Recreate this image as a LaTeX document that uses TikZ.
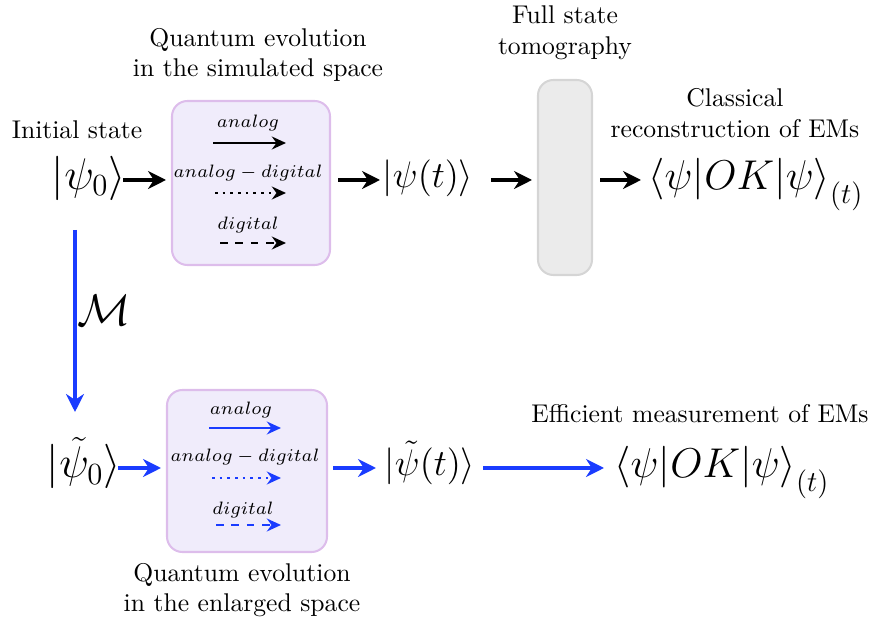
\documentclass[tikz,border=0pt]{standalone}
\usepackage{graphicx}
\usetikzlibrary{arrows.meta}
\definecolor{qblue}{HTML}{1A3CFF}
\definecolor{boxfill}{HTML}{F0ECFB}
\definecolor{boxdraw}{HTML}{DDBDEB}
\definecolor{tomofill}{HTML}{EBEBEB}
\definecolor{tomodraw}{HTML}{D5D5D5}
\newcommand{\okexpr}{\scalebox{0.94}{$\langle\psi|OK|\psi\rangle_{\lower3pt\hbox{$\scriptstyle(t)$}}$}}
\begin{document}
\begin{tikzpicture}[x=0.39pt,y=-0.39pt,
  evobox/.style={draw=boxdraw,fill=boxfill,line width=0.8pt,rounded corners=6pt},
  tomobox/.style={draw=tomodraw,fill=tomofill,line width=0.8pt,rounded corners=6pt},
  bigarrow/.style={line width=1.4pt,-{Stealth[length=7pt,width=7pt]}},
  smallarrow/.style={line width=1pt,-{Stealth[length=5.5pt,width=5pt]}},
  lab/.style={align=center,inner sep=0pt},
  tiny/.style={font=\fontsize{7.5}{9}\selectfont,inner sep=0pt},
  st/.style={inner sep=0pt,font=\LARGE},
  sm/.style={inner sep=0pt,font=\Large},
  okst/.style={inner sep=0pt,font=\LARGE}]
\useasboundingbox (0,0) rectangle (887,622);
% top row
\node[lab] (qevs) at (258,55) {Quantum evolution\\in the simulated space};
\node[lab] (init) at (77,130) {Initial state};
\node[st] (psi0) at (89,178) {$|\psi_0\rangle$};
\draw[evobox] (172,101) rectangle (330,265);
\node[tiny] (t1) at (248,123) {$analog$};
\coordinate (a1s) at (213,143); \coordinate (a1e) at (286,143);
\draw[smallarrow] (a1s) -- (a1e);
\node[tiny] (t2) at (248,173) {$analog-digital$};
\coordinate (a2s) at (215,193); \coordinate (a2e) at (286,193);
\draw[smallarrow,dotted] (a2s) -- (a2e);
\node[tiny] (t3) at (248,225) {$digital$};
\coordinate (a3s) at (220,243); \coordinate (a3e) at (286,243);
\draw[smallarrow,dashed] (a3s) -- (a3e);
\coordinate (b0) at (123,180); \coordinate (b1w) at (166,180);
\draw[bigarrow] (b0) -- (b1w);
\coordinate (b1e) at (338,180); \coordinate (b2) at (380,180);
\draw[bigarrow] (b1e) -- (b2);
\node[sm] (psit) at (428,178) {$|\psi(t)\rangle$};
\node[lab] (full) at (565,33) {Full state\\tomography};
\draw[tomobox] (538,80) rectangle (592,275);
\coordinate (b3) at (491,180); \coordinate (tw) at (532,180);
\draw[bigarrow] (b3) -- (tw);
\node[lab] (clas) at (735,113) {Classical\\reconstruction of EMs};
\node[okst,anchor=base west] (ok1) at (648,190) {\okexpr};
\coordinate (te) at (600,180); \coordinate (b4) at (641,180);
\draw[bigarrow] (te) -- (b4);
% vertical map
\coordinate (ms) at (75,230); \coordinate (me) at (75,412);
\draw[bigarrow,qblue] (ms) -- (me);
\node[font=\LARGE,inner sep=0pt] (M) at (104,310) {$\mathcal{M}$};
% bottom row
\node[st] (tpsi0) at (84,463) {$|\tilde\psi_0\rangle$};
\draw[evobox] (167,390) rectangle (327,552);
\node[tiny] (u1) at (241,410) {$analog$};
\coordinate (c1s) at (209,428); \coordinate (c1e) at (281,428);
\draw[smallarrow,qblue] (c1s) -- (c1e);
\node[tiny] (u2) at (245,457) {$analog-digital$};
\coordinate (c2s) at (212,478); \coordinate (c2e) at (281,478);
\draw[smallarrow,dotted,qblue] (c2s) -- (c2e);
\node[tiny] (u3) at (243,510) {$digital$};
\coordinate (c3s) at (216,525); \coordinate (c3e) at (281,525);
\draw[smallarrow,dashed,qblue] (c3s) -- (c3e);
\coordinate (d0) at (118,468); \coordinate (d1w) at (161,468);
\draw[bigarrow,qblue] (d0) -- (d1w);
\coordinate (d1e) at (333,468); \coordinate (d2) at (376,468);
\draw[bigarrow,qblue] (d1e) -- (d2);
\node[sm] (tpsit) at (430,463) {$|\tilde\psi(t)\rangle$};
\coordinate (d3) at (483,468); \coordinate (d4) at (604,468);
\draw[bigarrow,qblue] (d3) -- (d4);
\node[lab] (eff) at (700,414) {Efficient measurement of EMs};
\node[okst,anchor=base west] (ok2) at (614,478) {\okexpr};
\node[lab] (qeve) at (242,590) {Quantum evolution\\in the enlarged space};
\end{tikzpicture}
\end{document}
